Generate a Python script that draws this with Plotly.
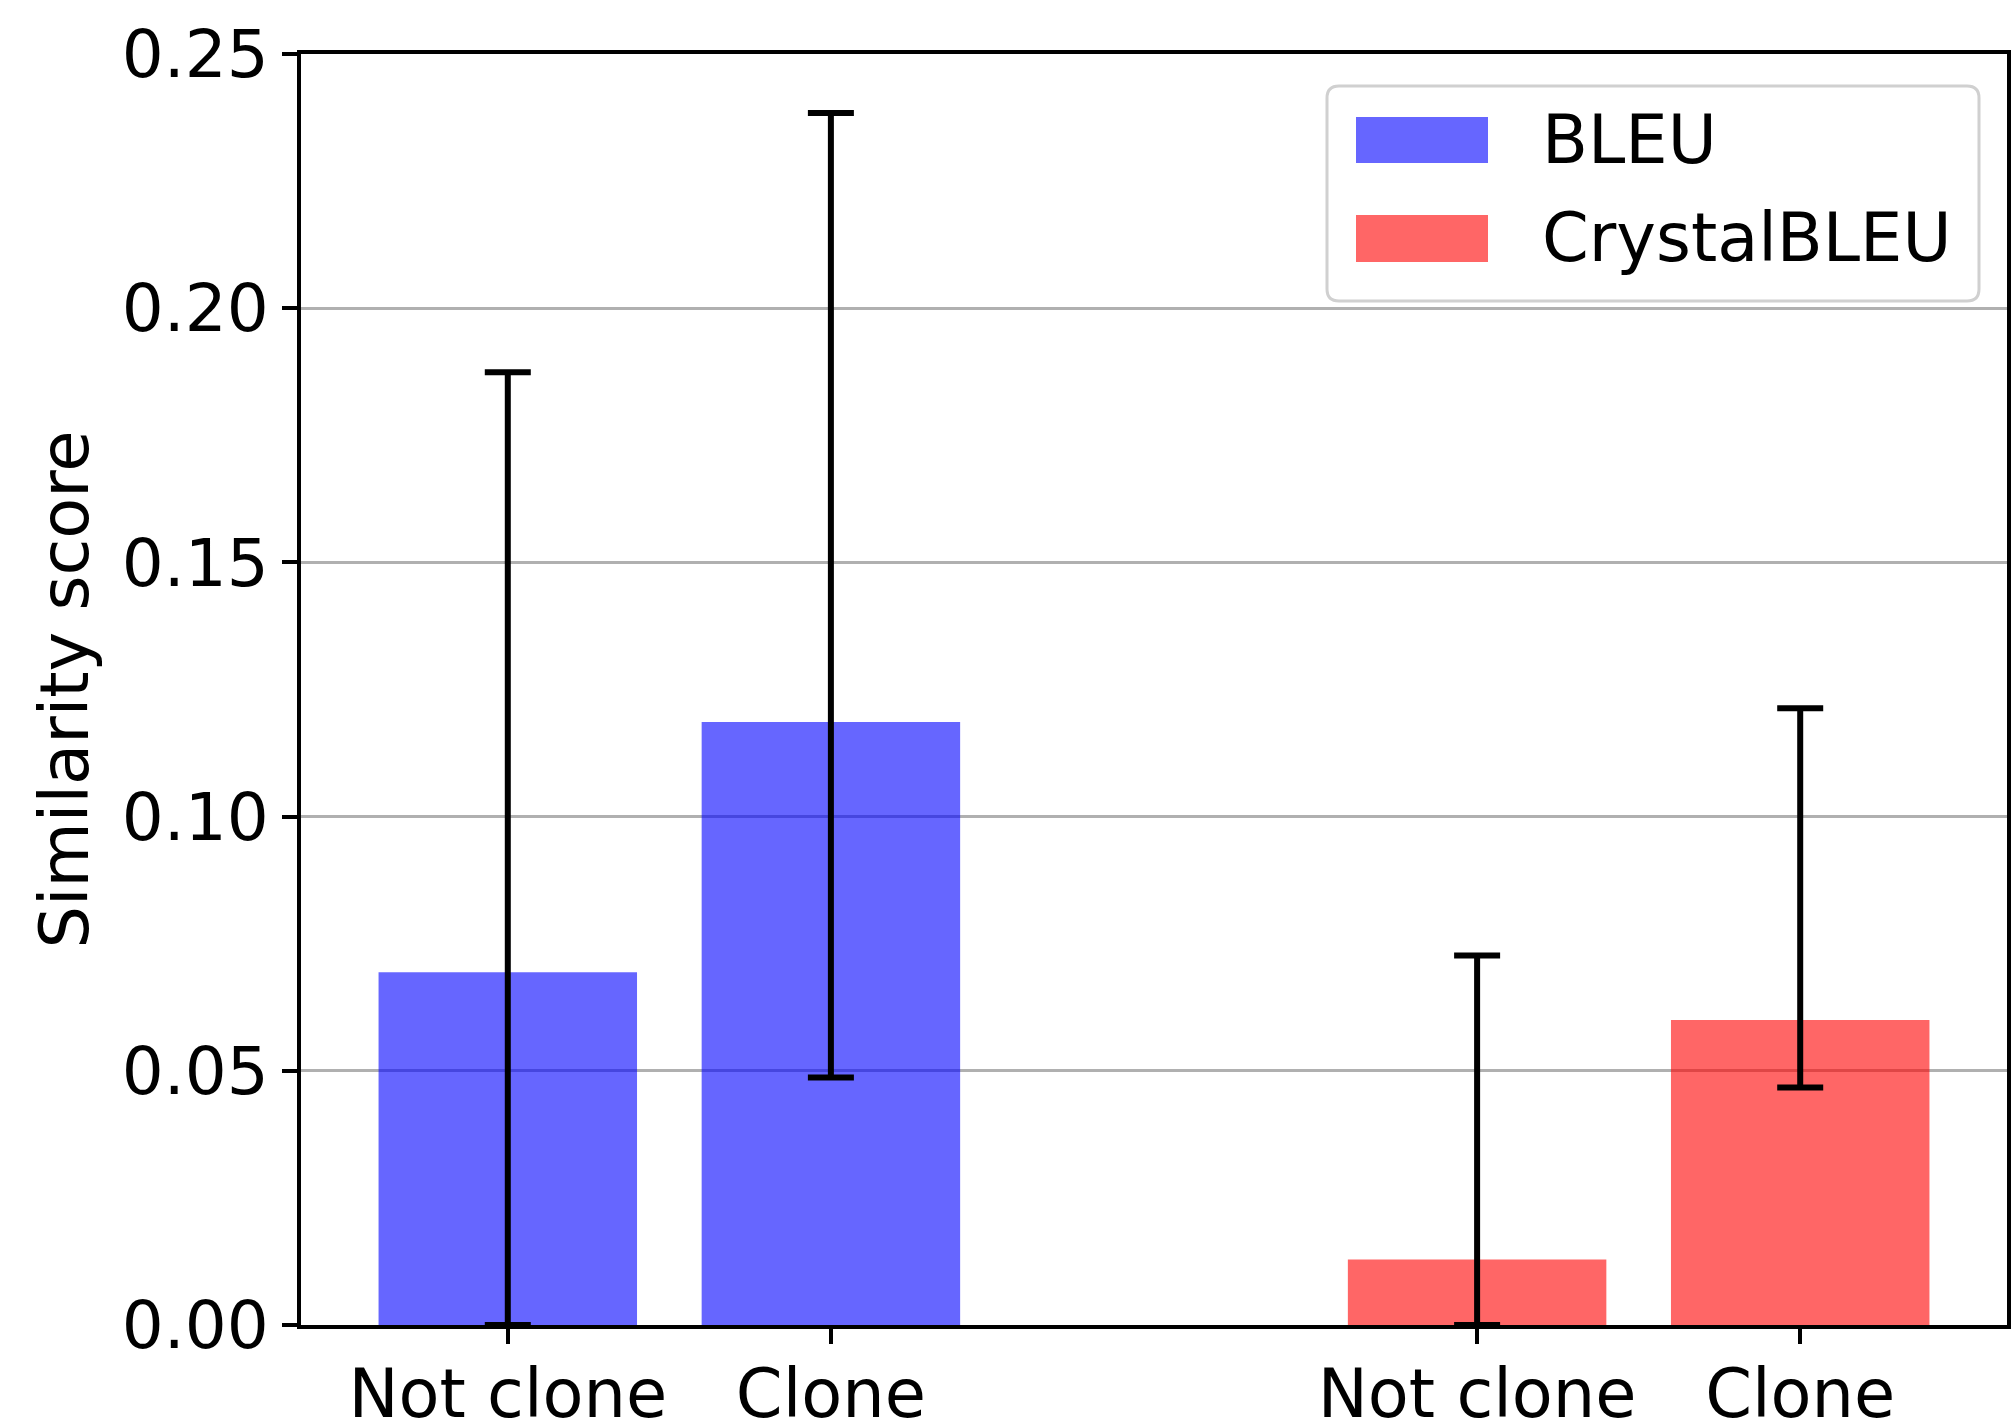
import plotly.graph_objects as go

# Category layout: two groups of bars with an empty slot between them
categories = ["Not clone", "Clone"]
bleu_x = [0, 1]
crystal_x = [3, 4]

# Mean similarity scores
bleu_values = [0.0694, 0.1186]
crystal_values = [0.0129, 0.0600]

# Error-bar extents (upper and lower ends)
bleu_upper = [0.1874, 0.2384]
bleu_lower = [0.0, 0.0487]
crystal_upper = [0.0727, 0.1213]
crystal_lower = [0.0, 0.0467]

series_names = ["BLEU", "CrystalBLEU"]
series_colors = ["rgba(0,0,255,0.6)", "rgba(255,0,0,0.6)"]

y_ticks = [0.0, 0.05, 0.10, 0.15, 0.20, 0.25]

FONT = "DejaVu Sans"
W, H = 2011, 1418
ML, MR, MT, MB = 301, 4, 54, 93
PW, PH = W - ML - MR, H - MT - MB


def px_x(p):
    return (p - ML) / PW


def px_y(p):
    return (H - MB - p) / PH


def err(vals, up, lo):
    return dict(
        type="data", symmetric=False,
        array=[u - v for u, v in zip(up, vals)],
        arrayminus=[v - l for v, l in zip(vals, lo)],
        color="black", thickness=6, width=23,
    )


fig = go.Figure()
fig.add_trace(go.Bar(
    x=bleu_x, y=bleu_values, width=0.8, name=series_names[0],
    marker=dict(color=series_colors[0], line=dict(width=0)),
    error_y=err(bleu_values, bleu_upper, bleu_lower), showlegend=False,
))
fig.add_trace(go.Bar(
    x=crystal_x, y=crystal_values, width=0.8, name=series_names[1],
    marker=dict(color=series_colors[1], line=dict(width=0)),
    error_y=err(crystal_values, crystal_upper, crystal_lower), showlegend=False,
))

# Legend box with rounded corners
x0, x1 = px_x(1327), px_x(1979)
y0, y1 = px_y(301), px_y(86)
rx, ry = 12 / PW, 12 / PH
path = (
    f"M{x0 + rx},{y0} L{x1 - rx},{y0} Q{x1},{y0} {x1},{y0 + ry} "
    f"L{x1},{y1 - ry} Q{x1},{y1} {x1 - rx},{y1} "
    f"L{x0 + rx},{y1} Q{x0},{y1} {x0},{y1 - ry} "
    f"L{x0},{y0 + ry} Q{x0},{y0} {x0 + rx},{y0} Z"
)
shapes = [dict(type="path", path=path, xref="paper", yref="paper",
               fillcolor="rgba(255,255,255,0.8)",
               line=dict(color="#d0d0d0", width=3), layer="above")]
annotations = []
swatch_rows = [(117, 163, 140), (215, 262, 238)]
for (top, bot, mid), name, color in zip(swatch_rows, series_names, series_colors):
    shapes.append(dict(type="rect", xref="paper", yref="paper",
                       x0=px_x(1356), x1=px_x(1488), y0=px_y(bot), y1=px_y(top),
                       fillcolor=color, line=dict(width=0), layer="above"))
    annotations.append(dict(xref="paper", yref="paper", x=px_x(1540), y=px_y(mid),
                            text=name, showarrow=False, xanchor="left", yanchor="middle",
                            font=dict(family=FONT, size=67, color="black")))

fig.update_layout(
    width=W, height=H,
    margin=dict(l=ML, r=MR, t=MT, b=MB, autoexpand=False),
    paper_bgcolor="white", plot_bgcolor="white",
    font=dict(family=FONT, size=66, color="black"),
    barmode="overlay",
    shapes=shapes, annotations=annotations,
    xaxis=dict(
        range=[-0.64, 4.64],
        tickvals=bleu_x + crystal_x, ticktext=categories + categories,
        ticks="outside", ticklen=15, tickwidth=4, tickcolor="black",
        showline=True, linecolor="black", linewidth=4, mirror=True,
        showgrid=False, zeroline=False, ticklabelstandoff=-7,
        tickfont=dict(family=FONT, size=67, color="black"),
    ),
    yaxis=dict(
        range=[0, 0.25], tickvals=y_ticks, tickformat=".2f",
        ticks="outside", ticklen=15, tickwidth=4, tickcolor="black",
        showline=True, linecolor="black", linewidth=4, mirror=True,
        showgrid=True, gridcolor="#b0b0b0", gridwidth=3, zeroline=False,
        ticklabelstandoff=0,
        tickfont=dict(family=FONT, size=66, color="black"),
        title=dict(text="Similarity score", standoff=12,
                   font=dict(family=FONT, size=67, color="black")),
    ),
)

fig.write_html("out.html")
